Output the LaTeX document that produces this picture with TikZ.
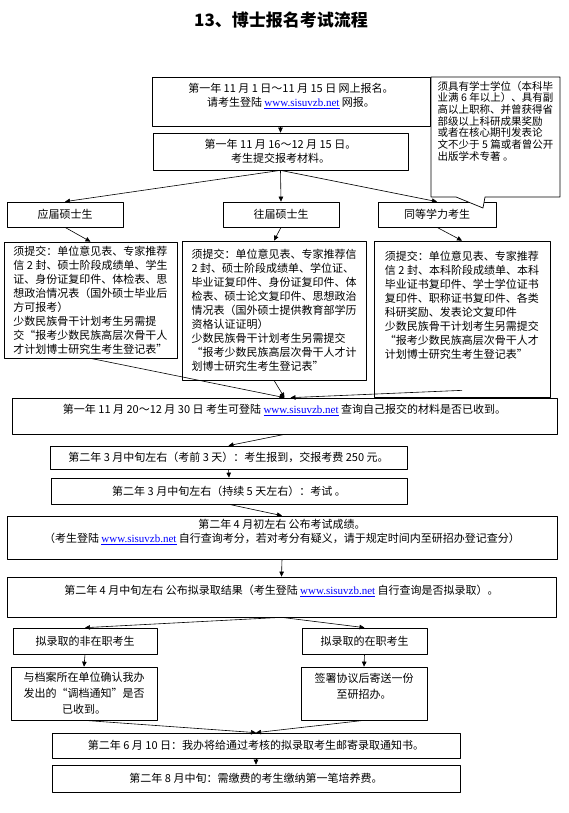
\documentclass[tikz,border=0pt]{standalone}
\usepackage{fontspec}
\setmainfont{Liberation Serif}
\newfontfamily\cjk{Noto Sans CJK SC}
\usepackage{tikz}
\usetikzlibrary{arrows.meta,calc}
\newcommand\sisuurl{{\rmfamily\color{blue}\underline{www.sisuvzb.net}}}

\begin{document}
\begin{tikzpicture}[x=1pt,y=-1pt,>={Triangle[length=5pt,width=4.5pt]},line join=round,
  box/.style={draw,line width=0.7pt,fill=white,align=center,inner sep=2pt,font=\cjk\fontsize{11}{14}\selectfont},
  boxl/.style={box,align=left},
  flow/.style={->,line width=0.6pt}]
\path[use as bounding box,fill=white] (0,0) rectangle (569,813);
\node[font=\cjk\bfseries\fontsize{17}{20}\selectfont] (title) at (281,20) {13、博士报名考试流程};
% online registration and materials
\node[box,minimum width=278,minimum height=49] (reg) at (291,101.5) {第一年 11 月 1 日～11 月 15 日 网上报名。\\请考生登陆 \sisuurl{} 网报。\\ ~};
\node[box,minimum width=255,minimum height=37] (sub) at (280.5,151.5) {第一年 11 月 16～12 月 15 日。\\考生提交报考材料。};
% three kinds of applicants
\node[box,minimum width=116,minimum height=25] (fresh) at (65,214.5) {应届硕士生};
\node[box,minimum width=116,minimum height=25] (prev) at (281,214.5) {往届硕士生};
\node[box,minimum width=118,minimum height=25] (equiv) at (437,214.5) {同等学力考生};
% callout with the requirement for equivalent applicants
\draw[line width=0.7pt,fill=white] (431,77) -- (560,77) -- (560,197) -- (485,197) -- (483,208) -- (456,197) -- (431,197) -- cycle;
\node[font=\cjk\fontsize{10.5}{11.7}\selectfont,align=left,anchor=north,inner sep=0pt] (note) at (495.5,81) {须具有学士学位（本科毕\\业满 6 年以上）、具有副\\高以上职称、并曾获得省\\部级以上科研成果奖励\\或者在核心期刊发表论\\文不少于 5 篇或者曾公开\\出版学术专著 。\\ ~};
\node[boxl,minimum width=173,minimum height=116] (freshreq) at (90.5,300) {须提交：单位意见表、专家推荐\\信 2 封、硕士阶段成绩单、学生\\证、身份证复印件、体检表、思\\想政治情况表（国外硕士毕业后\\方可报考）\\少数民族骨干计划考生另需提\\交“报考少数民族高层次骨干人\\才计划博士研究生考生登记表”};
\node[boxl,minimum width=184,minimum height=139] (prevreq) at (274,310.5) {须提交：单位意见表、专家推荐信\\2 封、硕士阶段成绩单、学位证、\\毕业证复印件、身份证复印件、体\\检表、硕士论文复印件、思想政治\\情况表（国外硕士提供教育部学历\\资格认证证明）\\少数民族骨干计划考生另需提交\\“报考少数民族高层次骨干人才计\\划博士研究生考生登记表”};
\node[boxl,minimum width=176,minimum height=156] (equivreq) at (462,319) {须提交：单位意见表、专家推荐\\信 2 封、本科阶段成绩单、本科\\毕业证书复印件、学士学位证书\\复印件、职称证书复印件、各类\\科研奖励、发表论文复印件\\少数民族骨干计划考生另需提交\\“报考少数民族高层次骨干人才\\计划博士研究生考生登记表”\\ ~\\ ~};
% checking, exam and results
\node[box,minimum width=545,minimum height=36] (check) at (284.5,416) {第一年 11 月 20～12 月 30 日 考生可登陆 \sisuurl{} 查询自己报交的材料是否已收到。\\ ~};
\node[box,minimum width=357,minimum height=23] (arrive) at (228.5,457.5) {第二年 3 月中旬左右（考前 3 天）：考生报到，交报考费 250 元。};
\node[box,minimum width=356,minimum height=26] (exam) at (229,491) {第二年 3 月中旬左右（持续 5 天左右）：考试 。};
\node[box,minimum width=550,minimum height=43] (score) at (282,537.5) {第二年 4 月初左右 公布考试成绩。\\（考生登陆 \sisuurl{} 自行查询考分，若对考分有疑义，请于规定时间内至研招办登记查分）\\ ~};
\node[box,minimum width=549,minimum height=40] (admit) at (281.5,597) {第二年 4 月中旬左右 公布拟录取结果（考生登陆 \sisuurl{} 自行查询是否拟录取）。\\ ~};
% admitted applicants
\node[box,minimum width=144,minimum height=26] (offjob) at (85,641) {拟录取的非在职考生};
\node[box,minimum width=125,minimum height=26] (onjob) at (364.5,641) {拟录取的在职考生};
\node[box,minimum width=146,minimum height=53,font=\cjk\fontsize{11}{16}\selectfont] (offfile) at (84,693.5) {与档案所在单位确认我办\\发出的“调档通知”是否\\已收到。};
\node[box,minimum width=126,minimum height=53,font=\cjk\fontsize{11}{16}\selectfont] (onfile) at (364,693.5) {签署协议后寄送一份\\至研招办。\\ ~};
\node[box,minimum width=408,minimum height=25] (notice) at (256,745.5) {第二年 6 月 10 日：我办将给通过考核的拟录取考生邮寄录取通知书。};
\node[box,minimum width=408,minimum height=27] (fee) at (256,778.5) {第二年 8 月中旬：需缴费的考生缴纳第一笔培养费。};
% connectors
\draw[flow] (reg.south -| sub.north) -- (sub.north);
\draw[flow] ($(equivreq.south)+(0,-7)$) -- ($(check.north)+(6,0)$);
\foreach \a/\b in {sub.south/fresh.north,sub.south/prev.north,sub.south/equiv.north,
  fresh.south/freshreq.north,prev.south/prevreq.north,equiv.south/equivreq.north,
  freshreq.south/check.north,prevreq.south/check.north,
  check.south/arrive.north,arrive.south/exam.north,exam.south/score.north,score.south/admit.north,
  admit.south/offjob.north,admit.south/onjob.north,offjob.south/offfile.north,onjob.south/onfile.north,
  offfile.south/notice.north,onfile.south/notice.north,notice.south/fee.north}
  \draw[flow] (\a) -- (\b);
\end{tikzpicture}
\end{document}
